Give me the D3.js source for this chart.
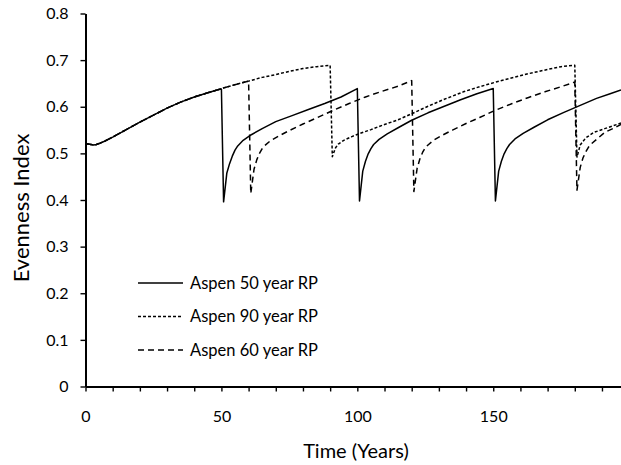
<!DOCTYPE html>
<html>
<head>
<meta charset="utf-8">
<script src="https://cdn.jsdelivr.net/npm/d3@7"></script>
<style>
  html, body { margin: 0; padding: 0; background: #fff; }
  svg { display: block; }
  text { font-family: Lato, "Open Sans", sans-serif; fill: #000; }
</style>
</head>
<body>
<svg id="chart" width="621" height="465"></svg>
<script>
// Evenness index over time for three aspen disturbance return periods.
// Each series is a list of [year, evenness] points.
const sharedStart = [
  [0, .521], [1, .520], [2, .519], [3, .518], [4, .519], [5, .521], [7, .526],
  [10, .535], [15, .551], [20, .567], [25, .582], [30, .597], [35, .610],
  [40, .621], [45, .630], [49, .637]
];

const aspen50 = sharedStart.concat([
  [50, .638], [50.8, .396], [52, .458], [53, .478], [54, .494], [55, .507], [56, .516],
  [58, .528], [61, .540], [65, .553], [70, .568], [76, .581], [82, .594], [88, .607],
  [94, .621], [100, .639],
  [100.8, .398], [102, .462], [103, .483], [104, .499], [105, .510], [106, .519],
  [108, .530], [111, .542], [115, .555], [120, .571], [126, .587], [132, .601],
  [138, .615], [144, .628], [150, .639],
  [150.8, .398], [152, .462], [153, .483], [154, .499], [155, .510], [156, .519],
  [158, .531], [161, .543], [165, .556], [170, .572], [176, .588], [182, .603],
  [188, .618], [193, .628], [197, .636]
]);

const aspen90 = sharedStart.concat([
  [50, .639], [53, .644], [56, .649], [60, .655], [65, .663], [70, .669], [75, .676],
  [80, .682], [85, .686], [90, .689],
  [90.8, .493], [92, .512], [93, .520], [95, .528], [98, .536], [101, .543], [105, .551],
  [110, .562], [115, .572], [120, .585], [126, .601], [132, .616], [139, .632],
  [145, .643], [151, .653], [157, .662], [163, .671], [170, .680], [175, .686], [180, .689],
  [180.8, .492], [182, .518], [184, .533], [187, .545], [191, .553], [197, .565]
]);

const aspen60 = sharedStart.concat([
  [50, .639], [53, .644], [56, .649], [60, .655],
  [60.8, .414], [62, .466], [63, .486], [64, .500], [65, .510], [66, .517], [68, .527],
  [71, .537], [75, .549], [80, .563], [85, .576], [91, .592], [97, .607], [103, .621],
  [109, .633], [115, .644], [120, .656],
  [120.8, .418], [122, .468], [123, .488], [124, .502], [125, .512], [126, .518],
  [128, .528], [131, .538], [135, .550], [140, .564], [145, .577], [151, .593],
  [157, .607], [163, .620], [169, .632], [175, .643], [180, .653],
  [180.8, .421], [182, .470], [183, .490], [184, .503], [185, .513], [186, .520],
  [188, .530], [191, .545], [194, .553], [197, .562]
]);

const xTickValues = d3.range(0, 191, 10);
const xLabelValues = [0, 50, 100, 150];
const yTickValues = [0, .1, .2, .3, .4, .5, .6, .7, .8];

const seriesNames = ["Aspen 50 year RP", "Aspen 90 year RP", "Aspen 60 year RP"];
const seriesData = [aspen50, aspen90, aspen60];
const seriesDash = [null, "3,2", "6,4"];

const svg = d3.select("#chart");

const x = d3.scaleLinear().domain([0, 197]).range([85.5, 621]);
const y = d3.scaleLinear().domain([0, .8]).range([386.5, 13.5]);

// Axes
const xAxis = d3.axisBottom(x)
  .tickValues(xTickValues)
  .tickFormat(d => xLabelValues.includes(d) ? String(d) : "")
  .tickSize(5).tickSizeOuter(0).tickPadding(19);

const yAxis = d3.axisLeft(y)
  .tickValues(yTickValues)
  .tickFormat(d => d === 0 ? "0" : d3.format(".1f")(d))
  .tickSize(5).tickSizeOuter(0).tickPadding(12);

const gx = svg.append("g").attr("transform", `translate(0,${y(0)})`).call(xAxis);
const gy = svg.append("g").attr("transform", `translate(${x(0)},0)`).call(yAxis);

[gx, gy].forEach(g => {
  g.select(".domain").attr("stroke", "#000").attr("stroke-width", 2);
  g.selectAll(".tick line").attr("stroke", "#000").attr("stroke-width", 1.4);
  g.selectAll(".tick text").attr("font-family", "Lato, sans-serif")
    .attr("font-size", 16).attr("fill", "#000");
});

// Lines
const line = d3.line().x(d => x(d[0])).y(d => y(d[1]));

svg.append("g").selectAll("path")
  .data(seriesData)
  .join("path")
  .attr("d", line)
  .attr("fill", "none")
  .attr("stroke", "#000")
  .attr("stroke-width", 1.5)
  .attr("stroke-linejoin", "round")
  .attr("stroke-dasharray", (d, i) => seriesDash[i]);

// Legend
const legendRows = [283, 316.5, 350];
const legend = svg.append("g");
seriesNames.forEach((name, i) => {
  legend.append("line")
    .attr("x1", 138).attr("x2", 183)
    .attr("y1", legendRows[i]).attr("y2", legendRows[i])
    .attr("stroke", "#000").attr("stroke-width", 1.5)
    .attr("stroke-dasharray", seriesDash[i]);
  legend.append("text")
    .attr("x", 190).attr("y", legendRows[i]).attr("dy", "0.35em")
    .attr("font-size", 16.5)
    .text(name);
});

// Axis titles
svg.append("text")
  .attr("x", 356).attr("y", 458)
  .attr("text-anchor", "middle")
  .attr("font-size", 20)
  .text("Time (Years)");

svg.append("text")
  .attr("transform", "translate(29,208) rotate(-90)")
  .attr("text-anchor", "middle")
  .attr("font-size", 22)
  .text("Evenness Index");
</script>
</body>
</html>
